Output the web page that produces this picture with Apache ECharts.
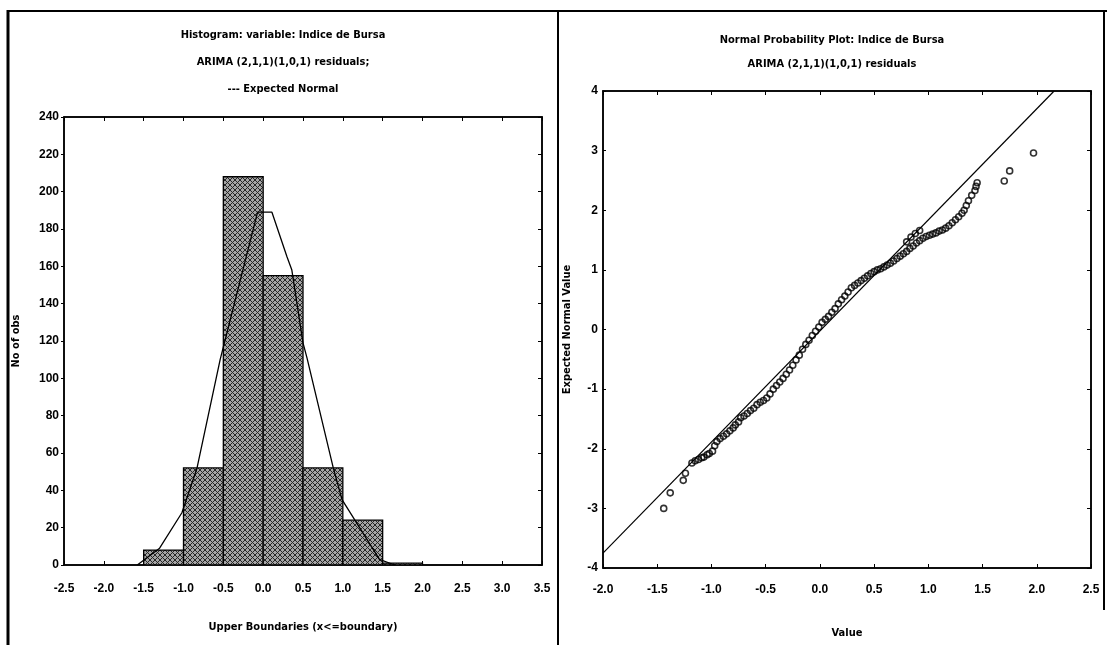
<!DOCTYPE html>
<html>
<head>
<meta charset="utf-8">
<script src="https://cdn.jsdelivr.net/npm/echarts@6/dist/echarts.min.js"></script>
<style>
  html, body { margin: 0; padding: 0; background: #fff; }
  #chart { width: 1107px; height: 645px; }
</style>
</head>
<body>
<div id="chart"></div>
<script>
// Histogram of ARIMA residuals: bin lower/upper boundaries and counts
const binLower = [-1.5, -1.0, -0.5, 0.0, 0.5, 1.0, 1.5];
const binUpper = [-1.0, -0.5, 0.0, 0.5, 1.0, 1.5, 2.0];
const binCounts = [8, 52, 208, 155, 52, 24, 1];

// Expected normal curve (counts per bin)
const curveX = [-1.58, -1.30, -1.02, -0.83, -0.54, -0.07, 0.11, 0.30, 0.36, 0.50, 0.55, 0.88, 0.99, 1.46, 1.65];
const curveY = [0, 9, 28, 52, 110, 189, 189, 165, 158, 119, 111, 52, 35, 3, 0];

// Normal probability plot: residual value vs expected normal value
const probX = [
  -1.44, -1.38, -1.26, -1.24, -1.18, -1.15, -1.12, -1.09, -1.07, -1.04, -1.02, -0.99,
  -0.97, -0.95, -0.92, -0.89, -0.86, -0.83, -0.80, -0.78, -0.75, -0.73, -0.70, -0.67,
  -0.64, -0.61, -0.58, -0.55, -0.52, -0.49, -0.46, -0.43, -0.40, -0.37, -0.34, -0.31,
  -0.28, -0.25, -0.22, -0.19, -0.16, -0.13, -0.10, -0.07, -0.04, -0.01, 0.02, 0.05,
  0.08, 0.11, 0.14, 0.17, 0.20, 0.23, 0.26, 0.29, 0.32, 0.35, 0.38, 0.41,
  0.44, 0.47, 0.50, 0.53, 0.56, 0.59, 0.62, 0.65, 0.68, 0.71, 0.74, 0.77,
  0.80, 0.83, 0.86, 0.89, 0.92, 0.95, 0.98, 1.01, 1.04, 1.07, 1.10, 1.13,
  1.16, 1.19, 1.22, 1.25, 1.28, 1.31, 1.33, 1.35, 1.37, 1.40, 1.43, 1.44,
  1.45, 0.80, 0.84, 0.88, 0.92, 1.70, 1.75, 1.97
];
const probY = [
  -3.00, -2.74, -2.53, -2.41, -2.24, -2.20, -2.18, -2.15, -2.14, -2.10, -2.08, -2.04,
  -1.95, -1.88, -1.83, -1.79, -1.75, -1.70, -1.65, -1.60, -1.55, -1.48, -1.45, -1.41,
  -1.36, -1.32, -1.26, -1.22, -1.19, -1.15, -1.08, -1.00, -0.94, -0.88, -0.82, -0.75,
  -0.68, -0.60, -0.51, -0.43, -0.33, -0.25, -0.18, -0.10, -0.03, 0.04, 0.12, 0.17,
  0.22, 0.29, 0.35, 0.43, 0.50, 0.56, 0.63, 0.70, 0.74, 0.78, 0.82, 0.86,
  0.90, 0.94, 0.97, 1.00, 1.02, 1.05, 1.08, 1.11, 1.15, 1.19, 1.23, 1.27,
  1.31, 1.36, 1.40, 1.45, 1.49, 1.53, 1.56, 1.58, 1.60, 1.62, 1.65, 1.67,
  1.70, 1.74, 1.79, 1.84, 1.89, 1.95, 2.00, 2.08, 2.16, 2.25, 2.33, 2.40,
  2.46, 1.47, 1.55, 1.61, 1.66, 2.49, 2.66, 2.96
];

// Expected normal reference line endpoints
const refX = [-2.0, 2.16];
const refY = [-3.75, 4.0];

const histTitle = ['Histogram: variable: Indice de Bursa', 'ARIMA (2,1,1)(1,0,1) residuals;', '--- Expected Normal'];
const probTitle = ['Normal Probability Plot: Indice de Bursa', 'ARIMA (2,1,1)(1,0,1) residuals'];

const narrow = "'Liberation Sans Narrow','DejaVu Sans Condensed','Liberation Sans',sans-serif";
const tickFont = "'Liberation Sans',Arial,sans-serif";

// Cross-hatched fill for the histogram bars
function hatchPattern() {
  const c = document.createElement('canvas');
  c.width = 5; c.height = 5;
  const g = c.getContext('2d');
  g.fillStyle = '#a4a4a4';
  g.fillRect(0, 0, 5, 5);
  g.strokeStyle = '#262626';
  g.lineWidth = 1;
  g.beginPath();
  g.moveTo(0, 0); g.lineTo(5, 5);
  g.moveTo(5, 0); g.lineTo(0, 5);
  g.stroke();
  return c;
}
const hatch = { image: hatchPattern(), repeat: 'repeat' };

const histData = binLower.map((v, i) => [v, binUpper[i], binCounts[i]]);
const curveData = curveX.map((v, i) => [v, curveY[i]]);
const probData = probX.map((v, i) => [v, probY[i]]);
const refData = refX.map((v, i) => [v, refY[i]]);

const tickLabel = {
  color: '#000', fontFamily: tickFont, fontWeight: 'bold', fontSize: 12
};
const axisLine = { show: true, onZero: false, lineStyle: { color: '#000', width: 1.5 } };

function mainX(grid, min, max, interval, name, gap, margin) {
  return {
    gridIndex: grid, type: 'value', min, max, interval,
    axisLine, splitLine: { show: false },
    axisTick: { show: true, inside: true, length: 4, lineStyle: { color: '#000' } },
    axisLabel: Object.assign({ margin, formatter: v => v.toFixed(1) }, tickLabel),
    name, nameLocation: 'middle', nameGap: gap,
    nameTextStyle: { fontFamily: narrow, fontWeight: 'bold', fontSize: 11, color: '#000' }
  };
}
function mirrorX(grid, min, max, interval) {
  return {
    gridIndex: grid, type: 'value', position: 'top', min, max, interval,
    axisLine, splitLine: { show: false },
    axisTick: { show: true, inside: true, length: 4, lineStyle: { color: '#000' } },
    axisLabel: { show: false }
  };
}
function mainY(grid, min, max, interval, name, gap, tickInside) {
  return {
    gridIndex: grid, type: 'value', min, max, interval,
    axisLine, splitLine: { show: false },
    axisTick: { show: true, inside: tickInside, length: 3, lineStyle: { color: '#000' } },
    axisLabel: Object.assign({ margin: 5 }, tickLabel),
    name, nameLocation: 'middle', nameGap: gap,
    nameTextStyle: { fontFamily: narrow, fontWeight: 'bold', fontSize: 11, color: '#000' }
  };
}
function mirrorY(grid, min, max, interval) {
  return {
    gridIndex: grid, type: 'value', position: 'right', min, max, interval,
    axisLine, splitLine: { show: false },
    axisTick: { show: true, inside: true, length: 4, lineStyle: { color: '#000' } },
    axisLabel: { show: false }
  };
}

function titleText(text, x, y) {
  return {
    type: 'text', x, y, silent: true,
    style: {
      text, fill: '#000', font: 'bold 11px ' + narrow,
      textAlign: 'center', align: 'center', textVerticalAlign: 'middle', verticalAlign: 'middle'
    }
  };
}
function frameLine(x1, y1, x2, y2, w) {
  return { type: 'line', silent: true, shape: { x1, y1, x2, y2 }, style: { stroke: '#000', lineWidth: w } };
}

const chart = echarts.init(document.getElementById('chart'), null, { renderer: 'canvas' });
chart.setOption({
  animation: false,
  backgroundColor: '#fff',
  grid: [
    { left: 64, top: 117, width: 478, height: 448, show: true, borderColor: '#000', borderWidth: 1.5, backgroundColor: '#fff' },
    { left: 603, top: 91, width: 488, height: 477, show: true, borderColor: '#000', borderWidth: 1.5, backgroundColor: '#fff' }
  ],
  xAxis: [
    mainX(0, -2.5, 3.5, 0.5, 'Upper Boundaries (x<=boundary)', 57, 18),
    mirrorX(0, -2.5, 3.5, 0.5),
    mainX(1, -2.0, 2.5, 0.5, 'Value', 60, 16),
    mirrorX(1, -2.0, 2.5, 0.5)
  ],
  yAxis: [
    mainY(0, 0, 240, 20, 'No of obs', 42, false),
    mirrorY(0, 0, 240, 20),
    mainY(1, -4, 4, 1, 'Expected Normal Value', 30, true),
    mirrorY(1, -4, 4, 1)
  ],
  series: [
    {
      type: 'custom', xAxisIndex: 0, yAxisIndex: 0, data: histData,
      encode: { x: [0, 1], y: 2 }, clip: true,
      renderItem: function (params, api) {
        const p0 = api.coord([api.value(0), api.value(2)]);
        const p1 = api.coord([api.value(1), 0]);
        return {
          type: 'rect',
          shape: { x: p0[0], y: p0[1], width: p1[0] - p0[0], height: p1[1] - p0[1] },
          style: { fill: hatch, stroke: '#000', lineWidth: 1.3 }
        };
      },
      z: 2
    },
    {
      type: 'line', xAxisIndex: 0, yAxisIndex: 0, data: curveData,
      symbol: 'none', smooth: false,
      lineStyle: { color: '#000', width: 1.3 }, z: 3
    },
    {
      type: 'line', xAxisIndex: 2, yAxisIndex: 2, data: refData,
      symbol: 'none', lineStyle: { color: '#000', width: 1.2 }, z: 3
    },
    {
      type: 'scatter', xAxisIndex: 2, yAxisIndex: 2, data: probData,
      symbol: 'circle', symbolSize: 6,
      itemStyle: { color: 'rgba(0,0,0,0)', borderColor: '#000', borderWidth: 1.6 }, z: 4
    }
  ],
  graphic: [
    frameLine(8, 11, 1107, 11, 2),
    frameLine(8, 10, 8, 645, 3),
    frameLine(558, 11, 558, 645, 2),
    frameLine(1104, 11, 1104, 610, 2),
    titleText(histTitle[0], 283, 35),
    titleText(histTitle[1], 283, 62),
    titleText(histTitle[2], 283, 89),
    titleText(probTitle[0], 832, 40),
    titleText(probTitle[1], 832, 64)
  ]
});
</script>
</body>
</html>
